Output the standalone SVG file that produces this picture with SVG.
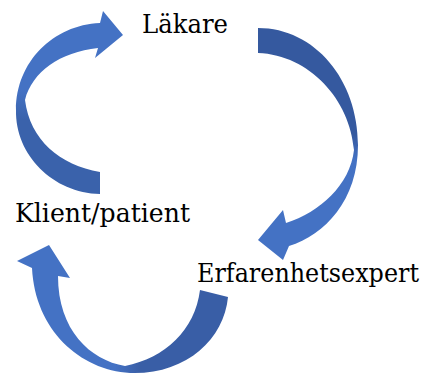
<svg xmlns="http://www.w3.org/2000/svg" width="427" height="376" viewBox="0 0 427 376">
  <defs>
    <linearGradient id="g1" gradientUnits="userSpaceOnUse" x1="0" y1="90" x2="0" y2="120">
      <stop offset="0" stop-color="#4472C4"/>
      <stop offset="1" stop-color="#3A62AB"/>
    </linearGradient>
    <linearGradient id="g2" gradientUnits="userSpaceOnUse" x1="0" y1="135" x2="0" y2="160">
      <stop offset="0" stop-color="#35599F"/>
      <stop offset="1" stop-color="#4472C4"/>
    </linearGradient>
    <linearGradient id="g3" gradientUnits="userSpaceOnUse" x1="115" y1="0" x2="140" y2="0">
      <stop offset="0" stop-color="#4472C4"/>
      <stop offset="1" stop-color="#395EA6"/>
    </linearGradient>
  </defs>
  <style>
    .lbl { font-family: "DejaVu Serif", "Liberation Serif", serif; font-size: 26.5px; fill: #000; }
  </style>
  <g id="connectors">
    <path id="arrow-klient-lakare" fill="url(#g1)" d="M100,172 L100,194 C53,193 15,155 16,110 C16,62 53,25 100,23 L103,11 L123,35 L95,58 L98,48 C60,52 32,72 25,100 C30,140 60,165 100,172 Z"/>
    <path id="arrow-lakare-erfarenhet" fill="url(#g2)" d="M258,28 C315,28 358,80 358,145 C358,200 325,235 289,246 L283,260 L258,240 L283,210 L286,223 C320,212 350,185 354,150 C350,100 310,55 258,53 Z"/>
    <path id="arrow-erfarenhet-klient" fill="url(#g3)" d="M200,290 L228,297 C224,340 185,375 130,373 C80,370 35,330 32,268 L17,261 L49,245 L70,278 L58,276 C58,330 90,360 125,366 C165,358 195,330 200,290 Z"/>
  </g>
  <g id="node-lakare">
    <text class="lbl" x="142" y="33" textLength="86" lengthAdjust="spacingAndGlyphs">Läkare</text>
  </g>
  <g id="node-klient">
    <text class="lbl" x="15" y="222" textLength="175" lengthAdjust="spacingAndGlyphs">Klient/patient</text>
  </g>
  <g id="node-erfarenhet">
    <text class="lbl" x="197" y="282" textLength="222" lengthAdjust="spacingAndGlyphs">Erfarenhetsexpert</text>
  </g>
</svg>
